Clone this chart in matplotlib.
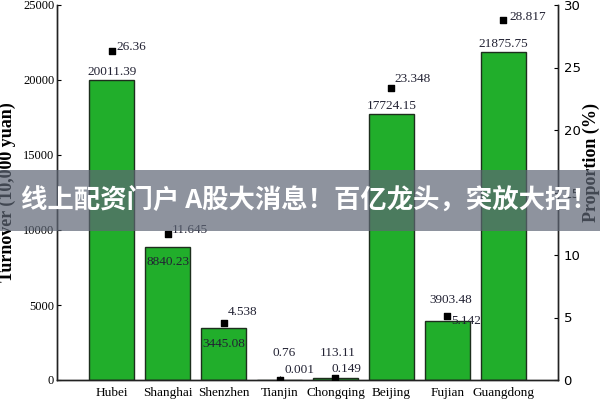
import matplotlib
matplotlib.use("Agg")
import matplotlib.pyplot as plt

provinces = ["Hubei", "Shanghai", "Shenzhen", "Tianjin", "Chongqing", "Beijing", "Fujian", "Guangdong"]
turnover = [20011.39, 8840.23, 3445.08, 0.76, 113.11, 17724.15, 3903.48, 21875.75]
turnover_labels = ["20011.39", "8840.23", "3445.08", "0.76", "113.11", "17724.15", "3903.48", "21875.75"]
proportion = [26.36, 11.645, 4.538, 0.001, 0.149, 23.348, 5.142, 28.817]
proportion_labels = ["26.36", "11.645", "4.538", "0.001", "0.149", "23.348", "5.142", "28.817"]
left_ticks = [0, 5000, 10000, 15000, 20000, 25000]
right_ticks = [0, 5, 10, 15, 20, 25, 30]
banner_text = "线上配资门户 A股大消息！百亿龙头，突放大招！"

# label offsets in pixels (dx, dy) -- styling only
bar_label_off = [(0, 8), (0, -15), (0, -16), (5, 27), (2, 25), (0, 8), (3, 21), (0, 8)]
prop_label_off = [(5, 4), (4, 4), (4, 11), (5, 10), (-4, 9), (3, 9), (4, -5), (6, 3)]

serif = "Liberation Serif"
plt.rcParams["font.family"] = [serif, "DejaVu Sans"]

fig = plt.figure(figsize=(6, 4), dpi=100)
ax = fig.add_axes([0.095, 0.05, 0.835, 0.9375])
ax2 = ax.twinx()

x = list(range(len(provinces)))
ax.bar(x, turnover, width=0.8, color="#21ae2b", edgecolor="#1d2e1d", linewidth=1.0, zorder=2)
ax.set_xlim(-0.98, 7.98)
ax.set_ylim(0, 25000)
ax2.set_ylim(0, 30)

ax2.scatter(x, proportion, marker="s", s=22, color="black", zorder=5)

for i in x:
    ax.annotate(turnover_labels[i], (i, turnover[i]), xytext=bar_label_off[i],
                textcoords="offset pixels", ha="center", va="center",
                fontsize=9.5, color="#222233", family=serif)
    ax2.annotate(proportion_labels[i], (i, proportion[i]), xytext=prop_label_off[i],
                 textcoords="offset pixels", ha="left", va="center",
                 fontsize=9.5, color="#222233", family=serif)

ax.set_xticks(x)
ax.set_xticklabels(provinces, fontsize=9.5, family=serif)
ax.set_yticks(left_ticks)
ax.set_yticklabels([str(v) for v in left_ticks], fontsize=9, family=serif)
ax2.set_yticks(right_ticks)
ax2.set_yticklabels([str(v) for v in right_ticks], fontsize=9.5, family="DejaVu Sans")

ax.tick_params(axis="x", direction="in", length=3, pad=5)
ax.tick_params(axis="y", direction="in", length=3, pad=2)
ax2.tick_params(axis="y", direction="in", length=3, pad=4)

for a in (ax, ax2):
    a.spines["top"].set_visible(False)
    for s in ("left", "right", "bottom"):
        a.spines[s].set_color("#222222")
        a.spines[s].set_linewidth(1.0)

fig.text(0.013, 1 - 192 / 400, "Turnover (10,000 yuan)", rotation=90, ha="center", va="center",
         fontsize=13, fontweight="bold", family=serif)
fig.text(0.986, 1 - 162 / 400, "Proportion (%)", rotation=90, ha="center", va="center",
         fontsize=13, fontweight="bold", family=serif)

# banner overlay
fig.patches.append(plt.Rectangle((0, 1 - 231 / 400), 1, 61 / 400, transform=fig.transFigure,
                                 facecolor="#5e6675", alpha=0.7, edgecolor="none", zorder=10))
fig.text(0.516, 1 - 200 / 400, banner_text, ha="center", va="center", color="white",
         fontsize=19, fontweight="bold", family=["Noto Sans CJK SC", "DejaVu Sans"], zorder=11)

fig.savefig("out.png", dpi=100)
